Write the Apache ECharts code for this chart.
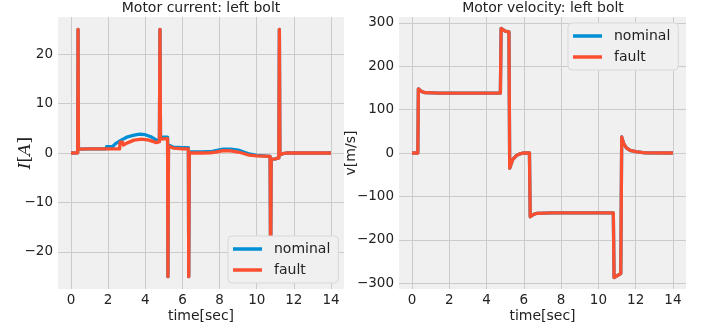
<!DOCTYPE html>
<html><head><meta charset="utf-8">
<script src="https://cdn.jsdelivr.net/npm/echarts@6/dist/echarts.min.js"></script>
<style>html,body{margin:0;padding:0;background:#fff}#c{width:709px;height:328px}</style>
</head><body><div id="c"></div>
<script>
const xTicks = [0, 2, 4, 6, 8, 10, 12, 14];
const currentTicks = [-20, -10, 0, 10, 20];
const velocityTicks = [-300, -200, -100, 0, 100, 200, 300];
const seriesNames = ['nominal', 'fault'];

const currentNominalTime = [0, 0.36, 0.38, 0.40, 1.0, 1.9, 1.92, 2.25, 2.4, 2.7, 3.0, 3.4, 3.7, 4.0, 4.3, 4.6, 4.76, 4.79, 4.82, 5.2, 5.22, 5.25, 5.5, 6.0, 6.32, 6.34, 6.37, 7.0, 7.5, 7.8, 8.2, 8.6, 9.0, 9.3, 9.6, 10.0, 10.72, 10.75, 10.78, 11.0, 11.19, 11.22, 11.25, 11.4, 11.6, 12.5, 14.0];
const currentNominal     = [0, 0.05, 25, 0.8, 0.85, 0.85, 1.3, 1.35, 1.9, 2.6, 3.2, 3.6, 3.8, 3.7, 3.3, 2.6, 2.4, 25, 3.2, 3.2, -25, 1.6, 1.2, 1.1, 1.1, -25, 0.2, 0.2, 0.25, 0.5, 0.8, 0.8, 0.6, 0.2, -0.2, -0.5, -0.7, -25, -1.3, -1.2, -1.0, 25, -0.4, -0.15, 0, 0, 0];

const currentFaultTime = [0, 0.36, 0.38, 0.40, 1.0, 2.0, 2.62, 2.64, 2.78, 2.82, 3.0, 3.4, 3.8, 4.2, 4.6, 4.76, 4.79, 4.82, 4.9, 5.2, 5.22, 5.25, 5.5, 6.0, 6.32, 6.34, 6.37, 7.0, 7.5, 7.8, 8.2, 8.6, 9.0, 9.3, 9.6, 10.0, 10.72, 10.75, 10.78, 11.0, 11.19, 11.22, 11.25, 11.4, 11.6, 12.5, 14.0];
const currentFault     = [0, 0.05, 25, 0.8, 0.85, 0.85, 0.85, 2.2, 2.2, 1.6, 2.0, 2.6, 2.8, 2.6, 2.1, 2.3, 25, 2.8, 2.9, 2.9, -25, 1.4, 1.0, 0.85, 0.85, -25, 0.05, 0.0, 0.05, 0.2, 0.5, 0.45, 0.2, -0.1, -0.45, -0.6, -0.7, -25, -1.3, -1.2, -1.0, 25, -0.4, -0.15, 0, 0, 0];

const velocityNominalTime = [0, 0.31, 0.34, 0.5, 0.7, 1.5, 4.74, 4.78, 5.0, 5.2, 5.24, 5.4, 5.6, 5.8, 5.95, 6.3, 6.34, 6.5, 6.7, 7.5, 10.8, 10.84, 11.0, 11.2, 11.25, 11.35, 11.5, 11.7, 12.0, 12.5, 14.0];
const velocityNominal     = [0, 0, 148, 142, 139, 138, 138, 287, 281, 279, -35, -15, -6, -2, 0, 0, -147, -142, -139, -138, -138, -287, -283, -278, 37, 22, 12, 6, 3, 0.5, 0];

const velocityFaultTime = [0, 0.31, 0.34, 0.5, 0.7, 1.5, 4.74, 4.78, 5.0, 5.2, 5.24, 5.4, 5.6, 5.8, 5.95, 6.3, 6.34, 6.5, 6.7, 7.5, 10.8, 10.84, 11.0, 11.2, 11.25, 11.35, 11.5, 11.7, 12.0, 12.5, 14.0];
const velocityFault     = [0, 0, 148, 142, 139, 138, 138, 287, 281, 279, -35, -15, -6, -2, 0, 0, -147, -142, -139, -138, -138, -287, -283, -278, 37, 22, 12, 6, 3, 0.5, 0];

const colors = ['#008fd5', '#fc4f30'];
const FONT = 'DejaVu Sans';
const TXT = '#222';
const zip = (a, b) => a.map((t, i) => [t, b[i]]);
const minus = v => String(v).replace('-', '\u2212');

function xAxisCfg(gi) {
  return {
    type: 'value', gridIndex: gi, min: -0.7, max: 14.7,
    name: 'time[sec]', nameLocation: 'middle', nameGap: 20, nameMoveOverlap: false,
    nameTextStyle: { fontFamily: FONT, fontSize: 14, color: TXT },
    axisLine: { show: false },
    axisTick: { show: false, customValues: xTicks },
    axisLabel: { customValues: xTicks, fontFamily: FONT, fontSize: 13.5, color: TXT, margin: 4, formatter: minus },
    splitLine: { show: true, lineStyle: { color: '#cbcbcb', width: 1 } }
  };
}
function yAxisCfg(gi, lim, ticks, name, nameGap, nameStyle) {
  return {
    type: 'value', gridIndex: gi, min: -lim, max: lim,
    name: name, nameLocation: 'middle', nameGap: nameGap, nameMoveOverlap: false,
    nameTextStyle: nameStyle,
    axisLine: { show: false },
    axisTick: { show: false, customValues: ticks },
    axisLabel: { customValues: ticks, fontFamily: FONT, fontSize: 13.5, color: TXT, margin: 5, formatter: minus },
    splitLine: { show: true, lineStyle: { color: '#cbcbcb', width: 1 } }
  };
}
function lineSeries(name, xi, data, color) {
  return {
    type: 'line', name: name, xAxisIndex: xi, yAxisIndex: xi, data: data,
    showSymbol: false, symbol: 'none', animation: false,
    lineStyle: { color: color, width: 3.3, join: 'round' }, itemStyle: { color: color }
  };
}
function legendCfg(left, top) {
  return {
    data: seriesNames, orient: 'vertical', left: left, top: top,
    icon: 'rect', itemWidth: 29, itemHeight: 3.5, itemGap: 7,
    backgroundColor: '#f0f0f0', borderColor: '#d8d8d8', borderWidth: 1, borderRadius: 4,
    padding: [6, 8, 6, 5], selectedMode: false,
    textStyle: { fontFamily: FONT, fontSize: 14, color: TXT, padding: [0, 0, 0, 7] }
  };
}

const chart = echarts.init(document.getElementById('c'), null, { renderer: 'canvas' });
chart.setOption({
  backgroundColor: '#ffffff',
  animation: false,
  title: [
    { text: 'Motor current: left bolt', left: 201, top: 1, textAlign: 'center', padding: 0,
      textStyle: { fontFamily: FONT, fontSize: 14, fontWeight: 'normal', color: TXT } },
    { text: 'Motor velocity: left bolt', left: 543, top: 1, textAlign: 'center', padding: 0,
      textStyle: { fontFamily: FONT, fontSize: 14, fontWeight: 'normal', color: TXT } }
  ],
  legend: [legendCfg(228, 236), legendCfg(568, 23)],
  grid: [
    { left: 58, top: 17, width: 286, height: 272, show: true, backgroundColor: '#f0f0f0', borderWidth: 0 },
    { left: 399, top: 17, width: 287, height: 272, show: true, backgroundColor: '#f0f0f0', borderWidth: 0 }
  ],
  xAxis: [xAxisCfg(0), xAxisCfg(1)],
  yAxis: [
    yAxisCfg(0, 27.5, currentTicks, '{r|I}[{r|A}]', 24,
      { fontFamily: 'DejaVu Serif', fontSize: 17, color: TXT,
        rich: { r: { fontFamily: 'DejaVu Serif', fontStyle: 'italic', fontSize: 17, color: TXT } } }),
    yAxisCfg(1, 313.5, velocityTicks, 'v[m/s]', 41,
      { fontFamily: FONT, fontSize: 14, color: TXT })
  ],
  series: [
    lineSeries('nominal', 0, zip(currentNominalTime, currentNominal), colors[0]),
    lineSeries('fault', 0, zip(currentFaultTime, currentFault), colors[1]),
    lineSeries('nominal', 1, zip(velocityNominalTime, velocityNominal), colors[0]),
    lineSeries('fault', 1, zip(velocityFaultTime, velocityFault), colors[1])
  ]
});
</script></body></html>
